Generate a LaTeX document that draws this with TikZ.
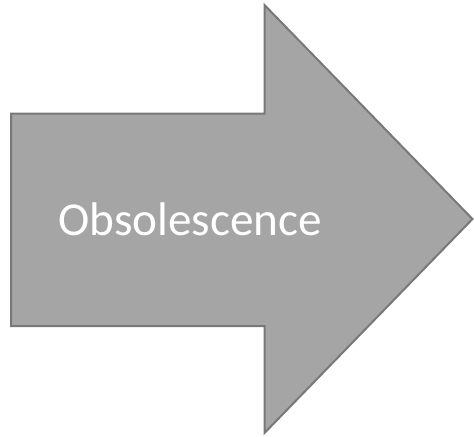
\documentclass[tikz,border=0pt]{standalone}
\usepackage{fontspec}
\setmainfont{Carlito}
\usepackage{tikz}
\usepackage{xcolor}
\definecolor{arrowfill}{HTML}{A5A5A5}
\definecolor{arrowedge}{HTML}{787878}

\begin{document}
\begin{tikzpicture}[x=0.75pt,y=0.75pt,yscale=-1,xscale=1]
\useasboundingbox (0,0) rectangle (474,436);

%Shape: Right Arrow [id:arrowObsolescence]
\draw [color=arrowedge, fill=arrowfill, line width=1.5pt, line join=miter] (11,113.5) -- (264.5,113.5) -- (264.5,5) -- (472.5,219) -- (264.5,433) -- (264.5,326) -- (11,326) -- cycle ;

% Text Node
\draw (190,235) node [anchor=base][inner sep=0.75pt]  [font=\fontsize{35.4pt}{40pt}\selectfont, color=white] [align=left] (obsolescence) {Obsolescence};

\end{tikzpicture}
\end{document}
